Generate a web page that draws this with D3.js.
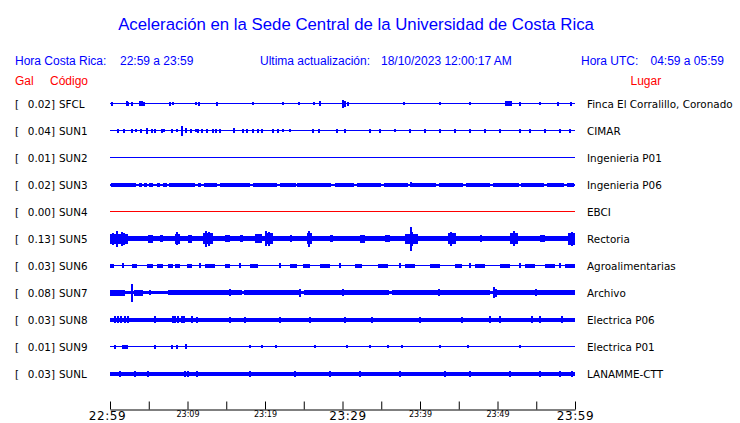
<!DOCTYPE html>
<html><head><meta charset="utf-8">
<script src="https://cdn.jsdelivr.net/npm/d3@7"></script>
<style>
html,body{margin:0;padding:0;background:#fff;}
svg{display:block;}
</style></head>
<body>
<script>
// ---------------- DATA ----------------
const title = "Aceleración en la Sede Central de la Universidad de Costa Rica";
const headerLocal = ["Hora Costa Rica:", "22:59 a 23:59"];
const headerUpdate = ["Ultima actualización:", "18/10/2023 12:00:17 AM"];
const headerUTC = ["Hora UTC:", "04:59 a 05:59"];
const columnHeads = ["Gal", "Código", "Lugar"];

const stations = ["SFCL","SUN1","SUN2","SUN3","SUN4","SUN5","SUN6","SUN7","SUN8","SUN9","SUNL"];
const galValues = [0.02,0.04,0.01,0.02,0.00,0.13,0.03,0.08,0.03,0.01,0.03];
const places = ["Finca El Corralillo, Coronado","CIMAR","Ingenieria P01","Ingenieria P06","EBCI","Rectoria",
  "Agroalimentarias","Archivo","Electrica P06","Electrica P01","LANAMME-CTT"];

// background noise level (relative amplitude) per station
const baseLevel = [0.5,0.5,0.5,1,0.5,2.5,0.5,1.5,2,0.5,2];

// isolated peaks: [minute after 22:59, relative amplitude]
const spikesSFCL = [[0.3,2],[2.2,2.5],[2.3,2],[2.8,2],[3.9,2.5],[4.1,2.5],[4.4,2],[7.7,2],[8.1,1.5],[11.1,1.5],[11.5,2],[13.8,2],[18.5,1.5],[22.3,1.5],[24.4,1.5],[26.3,1.5],[27.1,2.5],[30.1,4],[30.3,3],[30.7,2],[37.9,1.5],[42.6,1.5],[46.5,1.5],[52.9,2],[55.5,1.5],[57.8,2],[59.5,2]];
const spikesSUN1 = [[1.0,2],[1.8,2],[2.8,2],[3.4,1.5],[4.0,2],[4.8,3],[5.4,2],[5.8,2],[6.7,2],[7.0,1.5],[8.0,2],[8.7,1.5],[9.3,5],[9.8,2.5],[10.5,2],[11.1,1.5],[11.4,2],[11.9,2],[12.5,2],[13.3,2],[13.7,2],[14.2,2],[16.0,2.5],[17.2,2],[17.7,2],[18.5,2],[19.1,2],[19.6,2],[21.0,2],[21.7,2],[22.3,1.5],[23.2,1.5],[26.2,2],[27.0,2],[29.3,2],[30.3,2],[33.6,2],[34.8,2],[36.8,1.5],[38.7,2],[40.7,2],[42.6,2],[44.5,2],[46.5,2],[48.4,2],[50.3,2],[52.9,2],[54.2,2],[56.1,2],[58.1,2],[59.4,2]];
const spikesSUN2 = [];
const spikesSUN3 = [[6.2,2],[11.6,2],[24.2,2],[38.8,2.5],[52.7,2]];
const spikesSUN4 = [];
const spikesSUN5 = [[0.4,6],[0.9,8],[1.5,7],[1.8,6],[8.6,6.5],[12.4,8],[12.8,7],[20.1,7.5],[20.5,7],[25.7,8],[38.8,12],[39.0,7],[44.0,7],[52.1,7.5],[59.6,7]];
const spikesSUN6 = [[1.7,2.5],[11.6,2.5],[16.8,2.5],[21.9,2.5],[29.7,2.5],[37.4,2.5],[46.5,2.5],[52.9,2.5],[58.1,2.5]];
const spikesSUN7 = [[2.8,9],[2.9,6],[5.2,2.5],[15.5,3.5],[24.5,4],[30.0,3.5],[42.5,3.5],[49.5,5.5],[49.8,4],[55.0,3.5]];
const spikesSUN8 = [[0.6,3.5],[1.0,3.5],[1.4,3.5],[1.9,3.5],[2.3,3.5],[5.8,3.5],[8.1,3.5],[8.4,3.5],[8.8,3.5],[9.3,3.5],[9.5,3.5],[10.6,3.5],[11.2,3],[15.5,3],[17.4,3],[21.9,3],[25.8,3],[30.3,3],[33.8,3],[40.0,3],[45.4,3],[49.0,3.5],[50.3,3.5],[54.5,3.5],[55.5,3.5],[58.3,3.5]];
const spikesSUN9 = [[0.6,2],[1.7,2],[1.9,2],[2.2,2],[5.8,2],[8.0,2],[8.6,2],[9.8,2.5],[18.1,1.5],[19.6,1.5],[21.4,1.5],[26.5,1.5],[30.6,1.5],[33.5,1.5],[35.9,1.5],[37.7,1.5],[42.6,1.5],[46.2,1.5],[52.9,1.5]];
const spikesSUNL = [[1.3,3],[3.2,3],[4.9,3],[9.7,3],[10.1,3],[11.2,3],[18.1,3],[23.9,3],[28.4,3],[32.3,3],[37.4,3],[43.2,3],[46.5,3],[51.6,3],[55.5,3],[58.1,3],[59.6,3]];

// sustained shaking: [start minute, end minute, relative amplitude]
const burstsSFCL = [[51.0,51.9,2.5]];
const burstsSUN1 = [];
const burstsSUN2 = [];
const burstsSUN3 = [[0.1,3.4,2],[3.7,4.1,2],[4.4,4.8,2],[5.0,5.6,2],[6.0,6.4,2],[6.8,7.3,2],[7.6,11.0,2],[11.4,11.8,2],[12.1,13.8,2],[14.2,18.0,2],[18.4,21.5,2],[21.9,24.0,2],[24.4,28.5,2],[29.0,31.5,2],[31.9,35.0,2],[35.4,38.5,2],[39.0,42.0,2],[42.4,45.5,2],[45.9,49.0,2],[49.4,52.5,2],[53.0,56.0,2],[56.4,58.6,2],[59.0,59.9,2]];
const burstsSUN4 = [];
const burstsSUN5 = [[0,2.3,5],[4.9,5.5,4],[6.5,6.8,3.5],[8.4,9.0,5],[10.1,10.6,4],[12.0,13.3,5.5],[14.8,15.5,3.5],[16.8,17.2,3.5],[18.7,19.6,4.5],[20.0,21.0,5.5],[23.2,23.5,3.5],[25.4,26.1,5.5],[28.4,28.8,3.5],[32.3,32.9,4],[35.5,36.1,3.5],[38.1,39.7,5],[43.6,44.6,5.5],[47.7,48.0,3.5],[51.6,52.6,5.5],[55.5,56.1,3.5],[59.1,60,6]];
const burstsSUN6 = [[0,0.5,2],[2.8,3.5,2],[4.8,5.5,2],[6.1,6.8,2],[7.5,8.1,2],[8.4,9.0,2],[9.9,10.6,2],[12.3,13.5,2],[14.8,15.5,2],[18.1,19.1,2],[23.2,24.1,2],[24.9,25.8,2],[27.1,28.4,2],[31.6,32.5,2],[34.6,35.9,2],[38.1,39.4,2],[41.3,42.6,2],[44.5,45.4,2],[47.1,48.4,2],[50.3,51.6,2],[53.5,54.8,2],[56.1,57.4,2],[58.7,60,2]];
const burstsSUN7 = [[0,1.9,3],[3.1,4.3,3],[7.5,17,2.5],[17.3,24.5,2.5],[25,36,2.5],[36.4,49,2.5],[49.4,60,2.5]];
const burstsSUN8 = [];
const burstsSUN9 = [];
const burstsSUNL = [];

const spikes = [spikesSFCL,spikesSUN1,spikesSUN2,spikesSUN3,spikesSUN4,spikesSUN5,spikesSUN6,spikesSUN7,spikesSUN8,spikesSUN9,spikesSUNL];
const bursts = [burstsSFCL,burstsSUN1,burstsSUN2,burstsSUN3,burstsSUN4,burstsSUN5,burstsSUN6,burstsSUN7,burstsSUN8,burstsSUN9,burstsSUNL];

const tickMinutes = [0,5,10,15,20,25,30,35,40,45,50,55,60];
const tickLabels = ["22:59","","23:09","","23:19","","23:29","","23:39","","23:49","","23:59"];
const majorLabels = ["22:59","23:29","23:59"];

// ---------------- CHART ----------------
const W = 740, H = 423;
const BLUE = "#0000ff", RED = "#ff0000";
const svg = d3.select("body").append("svg").attr("width", W).attr("height", H);

const start = new Date(2023, 9, 17, 22, 59, 0);
const toDate = m => new Date(start.getTime() + m * 60000);
const x = d3.scaleTime().domain([toDate(0), toDate(60)]).range([110, 575]);
const y = d3.scalePoint().domain(stations).range([103.5, 373.5]);
const amp = d3.scaleLinear().domain([0, 10]).range([0, 10]);

// title
svg.append("text").attr("x", 356).attr("y", 29.5).attr("text-anchor", "middle")
  .attr("font-family", "Liberation Sans, Arial, sans-serif").attr("font-size", 16.8)
  .attr("fill", BLUE).text(title);

const hdr = (tx, ty, t, col) => svg.append("text").attr("x", tx).attr("y", ty)
  .attr("font-family", "Liberation Sans, Arial, sans-serif").attr("font-size", 12)
  .attr("fill", col).text(t);
hdr(15, 64.5, headerLocal[0], BLUE);
hdr(120, 64.5, headerLocal[1], BLUE);
hdr(260, 64.5, headerUpdate[0], BLUE);
hdr(381, 64.5, headerUpdate[1], BLUE);
hdr(581, 64.5, headerUTC[0], BLUE);
hdr(650.5, 64.5, headerUTC[1], BLUE);
hdr(15, 84.5, columnHeads[0], RED);
hdr(50, 84.5, columnHeads[1], RED);
hdr(630.5, 84.5, columnHeads[2], RED);

// rows
const rows = svg.append("g");
stations.forEach((s, i) => {
  const cy = y(s);
  const col = galValues[i] === 0 ? RED : BLUE;
  const g = rows.append("g").attr("shape-rendering", "crispEdges");
  const lab = rows.append("g").attr("font-family", "DejaVu Sans, sans-serif").attr("font-size", 10.4).attr("fill", "#000");
  lab.append("text").attr("x", 15).attr("y", cy + 4).text("[");
  lab.append("text").attr("x", 55).attr("y", cy + 4).attr("text-anchor", "end").text(galValues[i].toFixed(2) + "]");
  lab.append("text").attr("x", 59).attr("y", cy + 4).text(s);
  lab.append("text").attr("x", 587).attr("y", cy + 4).text(places[i]);
  const b = Math.max(amp(baseLevel[i]), 0.5);
  g.append("rect").attr("x", x(toDate(0))).attr("width", x(toDate(60)) - x(toDate(0)))
    .attr("y", cy - b).attr("height", 2 * b).attr("fill", col);
  g.selectAll("rect.burst").data(bursts[i]).join("rect").attr("class", "burst")
    .attr("x", d => x(toDate(d[0]))).attr("width", d => Math.max(1, x(toDate(d[1])) - x(toDate(d[0]))))
    .attr("y", d => cy - amp(d[2])).attr("height", d => 2 * amp(d[2])).attr("fill", col);
  g.selectAll("rect.spike").data(spikes[i]).join("rect").attr("class", "spike")
    .attr("x", d => x(toDate(d[0])) - 1).attr("width", 2)
    .attr("y", d => cy - amp(d[1])).attr("height", d => 2 * amp(d[1])).attr("fill", col);
});

// time axis
const axis = d3.axisBottom(x).tickValues(tickMinutes.map(toDate))
  .tickSizeInner(-8).tickSizeOuter(0)
  .tickFormat((d, i) => tickLabels[i]);
const ax = svg.append("g").attr("transform", "translate(0,409.5)").call(axis);
ax.select(".domain").attr("stroke", "#000");
ax.selectAll(".tick line").attr("stroke", "#000");
ax.selectAll(".tick text").attr("dy", null).attr("fill", "#000")
  .attr("font-family", "DejaVu Sans, sans-serif")
  .each(function(d, i) {
    const t = d3.select(this);
    if (majorLabels.includes(tickLabels[i])) {
      t.attr("font-size", 12).attr("letter-spacing", 0.6).attr("y", 10);
      if (i === 0) t.attr("x", -3);
      if (i === 6) t.attr("x", 5);
    } else {
      t.attr("font-size", 8).attr("y", 7.5);
    }
  });
</script>
</body></html>
